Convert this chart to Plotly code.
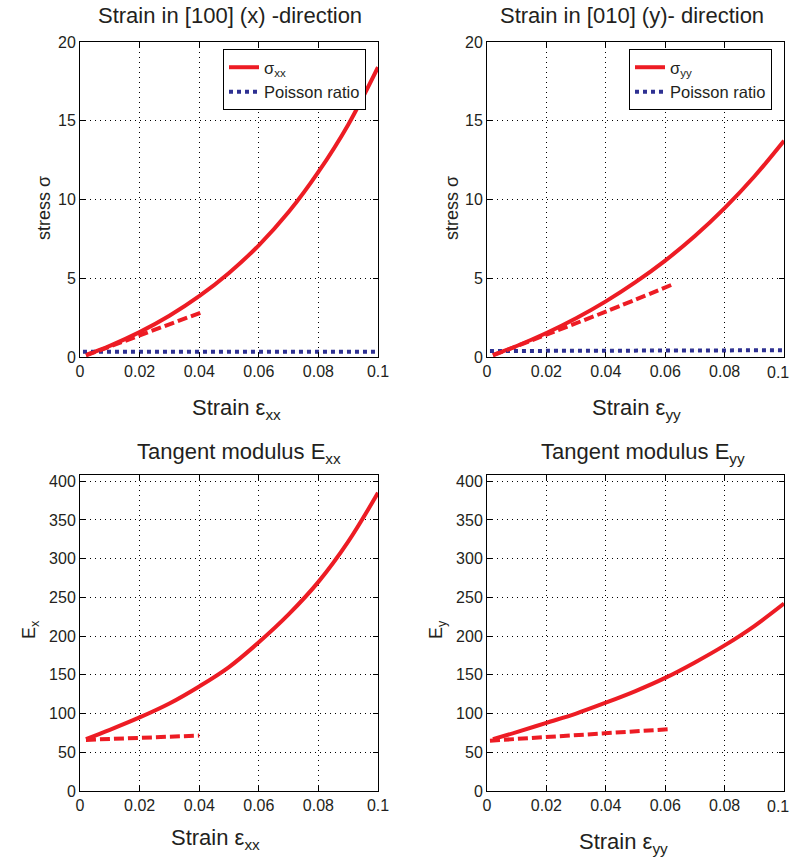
import plotly.graph_objects as go

# ---- data -------------------------------------------------------------
strain = [0.002, 0.01, 0.02, 0.03, 0.04, 0.05, 0.06, 0.07, 0.08, 0.09, 0.1]

stress_xx = [0.13, 0.71, 1.58, 2.62, 3.86, 5.34, 7.09, 9.2, 11.75, 14.75, 18.4]
stress_yy = [0.13, 0.70, 1.52, 2.46, 3.53, 4.75, 6.12, 7.68, 9.45, 11.46, 13.73]

modulus_xx = [67, 79, 95, 113, 135, 160, 192, 228, 270, 322, 385]
modulus_yy = [67, 76, 88, 100, 114, 129, 146, 166, 188, 213, 242]

# linearised (small-strain) responses
lin_strain_x = [0.002, 0.02, 0.041]
lin_stress_x = [0.1, 1.35, 2.85]
lin_strain_y = [0.002, 0.02, 0.04, 0.062]
lin_stress_y = [0.1, 1.42, 2.88, 4.57]

lin_mod_strain_x = [0.002, 0.02, 0.04]
lin_mod_x = [66, 68.5, 71.5]
lin_mod_strain_y = [0.001, 0.03, 0.062]
lin_mod_y = [65, 72, 80]

poisson_strain = [0.001, 0.05, 0.1]
poisson_x = [0.33, 0.335, 0.34]
poisson_y = [0.38, 0.405, 0.43]

x_ticks = [0, 0.02, 0.04, 0.06, 0.08, 0.1]
x_ticktext = ["0", "0.02", "0.04", "0.06", "0.08", "0.1"]
stress_ticks = [0, 5, 10, 15, 20]
modulus_ticks = [0, 50, 100, 150, 200, 250, 300, 350, 400]

# ---- styling ----------------------------------------------------------
RED = "#ED1C24"
BLUE = "#2E3192"
INK = "#231F20"
FONT = "Liberation Sans, Arial, sans-serif"
TICK_SIZE = 16
W, H = 791, 867


def px_x(p):
    return p / W


def px_y(p):
    return 1 - p / H


fig = go.Figure()

# top-left: stress in x
fig.add_trace(go.Scatter(x=strain, y=stress_xx, mode="lines", line=dict(color=RED, width=4, shape="spline"),
                         name="σ<sub>xx</sub>", xaxis="x", yaxis="y", legend="legend"))
fig.add_trace(go.Scatter(x=poisson_strain, y=poisson_x, mode="lines", line=dict(color=BLUE, width=4, dash="dot"),
                         name="Poisson ratio", xaxis="x", yaxis="y", legend="legend"))
fig.add_trace(go.Scatter(x=lin_strain_x, y=lin_stress_x, mode="lines", line=dict(color=RED, width=4, dash="10px,4px"),
                         showlegend=False, xaxis="x", yaxis="y"))

# top-right: stress in y
fig.add_trace(go.Scatter(x=strain, y=stress_yy, mode="lines", line=dict(color=RED, width=4, shape="spline"),
                         name="σ<sub>yy</sub>", xaxis="x2", yaxis="y2", legend="legend2"))
fig.add_trace(go.Scatter(x=poisson_strain, y=poisson_y, mode="lines", line=dict(color=BLUE, width=4, dash="dot"),
                         name="Poisson ratio", xaxis="x2", yaxis="y2", legend="legend2"))
fig.add_trace(go.Scatter(x=lin_strain_y, y=lin_stress_y, mode="lines", line=dict(color=RED, width=4, dash="10px,4px", shape="spline"),
                         showlegend=False, xaxis="x2", yaxis="y2"))

# bottom-left: tangent modulus x
fig.add_trace(go.Scatter(x=strain, y=modulus_xx, mode="lines", line=dict(color=RED, width=4, shape="spline"),
                         showlegend=False, xaxis="x3", yaxis="y3"))
fig.add_trace(go.Scatter(x=lin_mod_strain_x, y=lin_mod_x, mode="lines", line=dict(color=RED, width=4, dash="10px,4px"),
                         showlegend=False, xaxis="x3", yaxis="y3"))

# bottom-right: tangent modulus y
fig.add_trace(go.Scatter(x=strain, y=modulus_yy, mode="lines", line=dict(color=RED, width=4, shape="spline"),
                         showlegend=False, xaxis="x4", yaxis="y4"))
fig.add_trace(go.Scatter(x=lin_mod_strain_y, y=lin_mod_y, mode="lines", line=dict(color=RED, width=4, dash="10px,4px"),
                         showlegend=False, xaxis="x4", yaxis="y4"))

left_dom = [px_x(80), px_x(378)]
right_dom = [px_x(487), px_x(784)]
top_dom = [px_y(357), px_y(42)]
bot_dom = [px_y(791), px_y(475)]

axis_common = dict(
    showline=True, linecolor="black", linewidth=1, mirror="ticks",
    ticks="inside", ticklen=5, tickcolor="black", automargin=False,
    showgrid=True, gridcolor="black", gridwidth=1, griddash="1px,4px",
    zeroline=False, tickfont=dict(family=FONT, size=TICK_SIZE, color=INK),
)


def xax(domain, anchor, labels=x_ticktext):
    return dict(axis_common, domain=domain, anchor=anchor, range=[0, 0.1],
                tickvals=x_ticks, ticktext=labels)


def yax(domain, anchor, rng, ticks):
    return dict(axis_common, domain=domain, anchor=anchor, range=rng, tickvals=ticks)


# the right-hand panels run up to the page edge; their last x label is placed
# as a free text below, kept inside the page
right_labels = x_ticktext[:-1] + [""]

legend_style = dict(xanchor="left", yanchor="top", bordercolor="black", borderwidth=1,
                    bgcolor="white", font=dict(family=FONT, size=16.5, color=INK),
                    tracegroupgap=0, itemwidth=30)

fig.update_layout(
    width=W, height=H,
    margin=dict(l=0, r=0, t=0, b=0, autoexpand=False),
    paper_bgcolor="white", plot_bgcolor="white",
    font=dict(family=FONT, color=INK),
    xaxis=xax(left_dom, "y"), yaxis=yax(top_dom, "x", [0, 20], stress_ticks),
    xaxis2=xax(right_dom, "y2", right_labels), yaxis2=yax(top_dom, "x2", [0, 20], stress_ticks),
    xaxis3=xax(left_dom, "y3"), yaxis3=yax(bot_dom, "x3", [0, 408], modulus_ticks),
    xaxis4=xax(right_dom, "y4", right_labels), yaxis4=yax(bot_dom, "x4", [0, 408], modulus_ticks),
    legend=dict(legend_style, x=px_x(223), y=px_y(49)),
    legend2=dict(legend_style, x=px_x(629), y=px_y(49)),
)

annotations = [
    # panel titles
    dict(text="Strain in [100] (x) -direction", x=px_x(230), y=px_y(16), size=22),
    dict(text="Strain in [010] (y)- direction", x=px_x(632), y=px_y(16), size=22),
    dict(text="Tangent modulus E<sub>xx</sub>", x=px_x(239), y=px_y(453), size=22),
    dict(text="Tangent modulus E<sub>yy</sub>", x=px_x(643), y=px_y(453), size=22),
    # x-axis titles
    dict(text="Strain ε<sub>xx</sub>", x=px_x(237), y=px_y(409), size=22),
    dict(text="Strain ε<sub>yy</sub>", x=px_x(636), y=px_y(409), size=22),
    dict(text="Strain ε<sub>xx</sub>", x=px_x(215), y=px_y(839), size=22),
    dict(text="Strain ε<sub>yy</sub>", x=px_x(623), y=px_y(843), size=22),
    # y-axis titles
    dict(text="stress σ", x=px_x(44), y=px_y(208), size=18, angle=-90),
    dict(text="stress σ", x=px_x(452), y=px_y(208), size=18, angle=-90),
    dict(text="E<sub>x</sub>", x=px_x(30), y=px_y(630), size=18, angle=-90),
    dict(text="E<sub>y</sub>", x=px_x(437), y=px_y(630), size=18, angle=-90),
]
anns = [
    dict(text=a["text"], x=a["x"], y=a["y"], xref="paper", yref="paper",
         xanchor="center", yanchor="middle", showarrow=False,
         textangle=a.get("angle", 0),
         font=dict(family=FONT, size=a["size"], color=INK))
    for a in annotations
]
# last x tick label on the right-hand panels
for ya_px in (372, 806):
    anns.append(dict(text=x_ticktext[-1], x=1, xref="paper", y=px_y(ya_px), yref="paper",
                     xanchor="right", yanchor="middle", showarrow=False,
                     font=dict(family=FONT, size=TICK_SIZE, color=INK)))
fig.update_layout(annotations=anns)

fig.write_html("out.html")
